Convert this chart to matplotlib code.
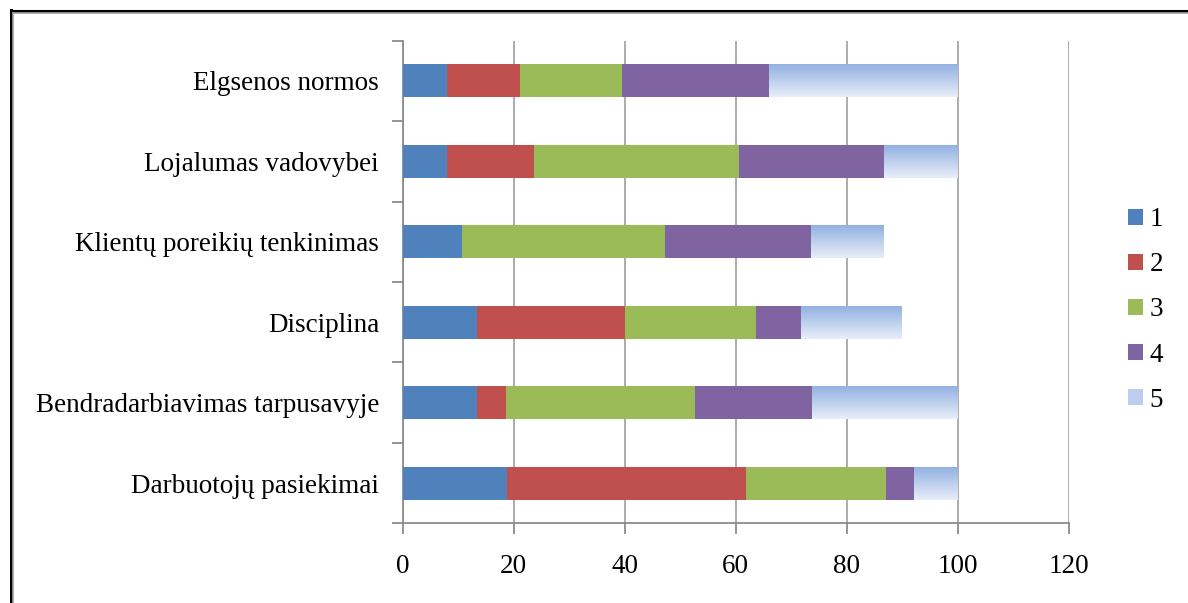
import matplotlib
matplotlib.use("Agg")
import matplotlib.pyplot as plt
import numpy as np
from matplotlib.patches import Patch
from matplotlib.lines import Line2D
from matplotlib.colors import LinearSegmentedColormap

categories = ["Elgsenos normos", "Lojalumas vadovybei", "Klientų poreikių tenkinimas",
              "Disciplina", "Bendradarbiavimas tarpusavyje", "Darbuotojų pasiekimai"]
s1 = [8.0, 8.0, 10.6, 13.3, 13.3, 18.8]
s2 = [13.2, 15.7, 0.0, 26.7, 5.3, 43.0]
s3 = [18.4, 36.9, 36.7, 23.7, 34.1, 25.2]
s4 = [26.4, 26.1, 26.3, 8.1, 21.1, 5.1]
s5 = [34.0, 13.3, 13.1, 18.1, 26.2, 7.9]
series_names = ["1", "2", "3", "4", "5"]
xticks = [0, 20, 40, 60, 80, 100, 120]

colors = ["#4F81BD", "#C0504D", "#9BBB59", "#8064A2"]
plt.rcParams['font.family'] = ['Liberation Serif', 'DejaVu Serif']
FS = 19.5

fig = plt.figure(figsize=(11.88, 6.03), dpi=100)
ax = fig.add_axes([402.7/1188, 1-523.3/603, (1068.7-402.7)/1188, (523.3-40.7)/603])

y = np.arange(len(categories))
h = 0.41
left = np.zeros(len(categories))
for vals, c, name in zip([s1, s2, s3, s4], colors, series_names[:4]):
    vals = np.array(vals)
    ax.barh(y, vals, left=left, height=h, color=c, edgecolor='none', zorder=3, label=name)
    left = left + vals

# gradient series 5
grad = np.linspace(0, 1, 64).reshape(-1, 1)
cmap = LinearSegmentedColormap.from_list("g", ["#93B1E2", "#E8EEF9"])
for yi, l, v in zip(y, left, s5):
    if v <= 0:
        continue
    ax.imshow(grad, cmap=cmap, aspect='auto', extent=(l, l + v, yi + h/2, yi - h/2),
              origin='upper', zorder=3, interpolation='bicubic')

ax.set_xlim(0, 120)
ax.set_ylim(len(categories) - 0.5, -0.5)
ax.set_xticks(xticks)
ax.set_xticklabels([str(t) for t in xticks])
ax.set_yticks(y)
ax.set_yticklabels(categories)
ax.set_yticks(np.arange(-0.5, len(categories)), minor=True)
ax.tick_params(axis='y', which='major', length=0, pad=17, labelsize=FS)
ax.tick_params(axis='y', which='minor', length=8, color='#8C8C8C', width=1.3)
ax.tick_params(axis='x', which='major', length=8, color='#8C8C8C', width=1.3, pad=14, labelsize=FS)
ax.grid(axis='x', color='#A6A6A6', linewidth=1.3, zorder=0)
ax.set_axisbelow(True)
for s in ['top', 'right']:
    ax.spines[s].set_visible(False)
for s in ['left', 'bottom']:
    ax.spines[s].set_color('#8C8C8C')
    ax.spines[s].set_linewidth(1.3)

handles = [Patch(facecolor=c, edgecolor='none') for c in colors] + [Patch(facecolor="#BCCDEE", edgecolor='none')]
leg = fig.legend(handles, series_names, loc='center left', bbox_to_anchor=(1128/1188, 1-310/603),
                 frameon=False, fontsize=FS, handlelength=0.55, handleheight=0.55,
                 handletextpad=0.25, labelspacing=0.74, borderaxespad=0, borderpad=0)

# outer frame
fig.add_artist(Line2D([11/1188, 11/1188], [0, 1-10/603], color='black', linewidth=2.2, transform=fig.transFigure))
fig.add_artist(Line2D([11/1188, 1], [1-11/603, 1-11/603], color='black', linewidth=2.2, transform=fig.transFigure))
fig.add_artist(Line2D([13/1188, 13/1188], [0, 1-12.5/603], color='#A0A0A0', linewidth=1.2, transform=fig.transFigure))
fig.add_artist(Line2D([13/1188, 1], [1-13/603, 1-13/603], color='#A0A0A0', linewidth=1.2, transform=fig.transFigure))

fig.savefig("out.png", dpi=100)
